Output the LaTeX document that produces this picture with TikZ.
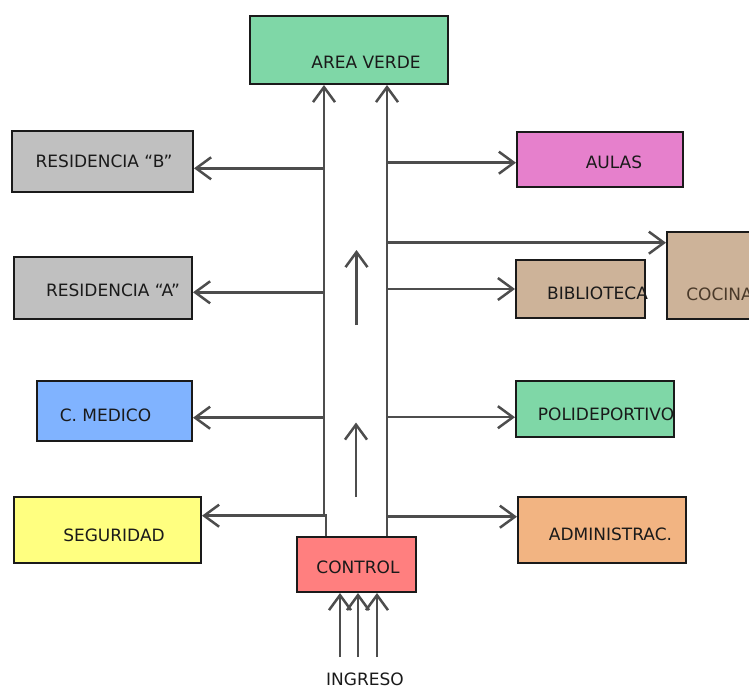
\documentclass[tikz,border=0pt]{standalone}
\usepackage{fontspec}
\setmainfont{DejaVu Sans}
\usetikzlibrary{arrows.meta}
\definecolor{lc}{HTML}{4D4D4D}
\definecolor{bc}{HTML}{1A1A1A}
\definecolor{cGreen}{HTML}{7FD7A7}
\definecolor{cGray}{HTML}{C0C0C0}
\definecolor{cBlue}{HTML}{80B3FF}
\definecolor{cYellow}{HTML}{FFFF80}
\definecolor{cPink}{HTML}{E680CC}
\definecolor{cTan}{HTML}{CDB399}
\definecolor{cOrange}{HTML}{F2B482}
\definecolor{cRed}{HTML}{FF7F7F}
\definecolor{cBrown}{HTML}{4A3A2A}
\begin{document}
\begin{tikzpicture}[x=1pt,y=-1pt,
  box/.style={draw=bc, line width=2pt, inner sep=0pt},
  lbl/.style={inner sep=0pt, text=bc, font=\fontsize{17}{20}\selectfont, text height=12.4pt, text depth=0pt},
  arr/.style={draw=lc, line width=2.5pt, -{Straight Barb[length=15pt,width=22pt]}},
  ln/.style={draw=lc, line width=2.5pt}]
\clip (0,0) rectangle (749,689);
% boxes
\node[box, fill=cGreen, minimum width=198, minimum height=68] (area) at (349,50) {};
\node[lbl] (areaT) at (366,62) {AREA VERDE};
\node[box, fill=cGray, minimum width=181, minimum height=61] (resB) at (102.5,161.5) {};
\node[lbl] (resBT) at (104,161) {RESIDENCIA “B”};
\node[box, fill=cGray, minimum width=178, minimum height=62] (resA) at (103,288) {};
\node[lbl] (resAT) at (113,290) {RESIDENCIA “A”};
\node[box, fill=cBlue, minimum width=155, minimum height=60] (med) at (114.5,411) {};
\node[lbl] (medT) at (105.5,415) {C. MEDICO};
\node[box, fill=cYellow, minimum width=187, minimum height=66] (seg) at (107.5,530) {};
\node[lbl] (segT) at (114,535) {SEGURIDAD};
\node[box, fill=cPink, minimum width=166, minimum height=55] (aulas) at (600,159.5) {};
\node[lbl] (aulasT) at (614,162) {AULAS};
\node[box, fill=cTan, minimum width=93, minimum height=87] (coc) at (713.5,275.5) {};
\node[lbl, text=cBrown] (cocT) at (719.5,294) {COCINA};
\node[box, fill=cTan, minimum width=129, minimum height=58] (bib) at (580.5,289) {};
\node[lbl] (bibT) at (597.5,293) {BIBLIOTECA};
\node[box, fill=cGreen, minimum width=158, minimum height=56] (poli) at (595,409) {};
\node[lbl] (poliT) at (606,414.5) {POLIDEPORTIVO};
\node[box, fill=cOrange, minimum width=168, minimum height=66] (adm) at (602,530) {};
\node[lbl] (admT) at (610.5,534.5) {ADMINISTRAC.};
\node[box, fill=cRed, minimum width=119, minimum height=55] (ctrl) at (356.5,564.5) {};
\node[lbl] (ctrlT) at (358,567) {CONTROL};
\node[lbl] (ing) at (365,679.5) {INGRESO};
% trunks
\coordinate (xL) at (324,0);
\coordinate (xR) at (387,0);
\coordinate (jL) at (324,515.7);
\coordinate (jL2) at (326,515.7);
\draw[ln] (ctrl.north -| jL2) -- (jL2) -- (jL);
\draw[arr] (jL) -- (area.south -| xL);
\draw[arr] (ctrl.north -| xR) -- (area.south -| xR);
% left branches
\coordinate (bB) at (324,168.3);
\coordinate (bA) at (324,292.3);
\coordinate (bM) at (324,417.7);
\coordinate (bS) at (324,515.7);
\draw[arr] (bB) -- (bB -| resB.east);
\draw[arr] (bA) -- (bA -| resA.east);
\draw[arr] (bM) -- (bM -| med.east);
\draw[arr] (bS) -- (bS -| seg.east);
% right branches
\coordinate (rAu) at (387,162.7);
\coordinate (rCo) at (387,242.7);
\coordinate (rBi) at (387,289);
\coordinate (rPo) at (387,417.2);
\coordinate (rAd) at (387,516.7);
\draw[arr] (rAu) -- (rAu -| aulas.west);
\draw[arr] (rCo) -- (rCo -| coc.west);
\draw[arr] (rBi) -- (rBi -| bib.west);
\draw[arr] (rPo) -- (rPo -| poli.west);
\draw[arr] (rAd) -- (rAd -| adm.west);
% flow arrows in the corridor
\coordinate (m1a) at (356.5,325);
\coordinate (m1b) at (356.5,250);
\coordinate (m2a) at (356,497);
\coordinate (m2b) at (356,422.5);
\draw[arr] (m1a) -- (m1b);
\draw[arr] (m2a) -- (m2b);
% ingress arrows
\coordinate (i1) at (340,657);
\coordinate (i2) at (358,657);
\coordinate (i3) at (377,657);
\draw[arr] (i1) -- (i1 |- ctrl.south);
\draw[arr] (i2) -- (i2 |- ctrl.south);
\draw[arr] (i3) -- (i3 |- ctrl.south);
\end{tikzpicture}
\end{document}
